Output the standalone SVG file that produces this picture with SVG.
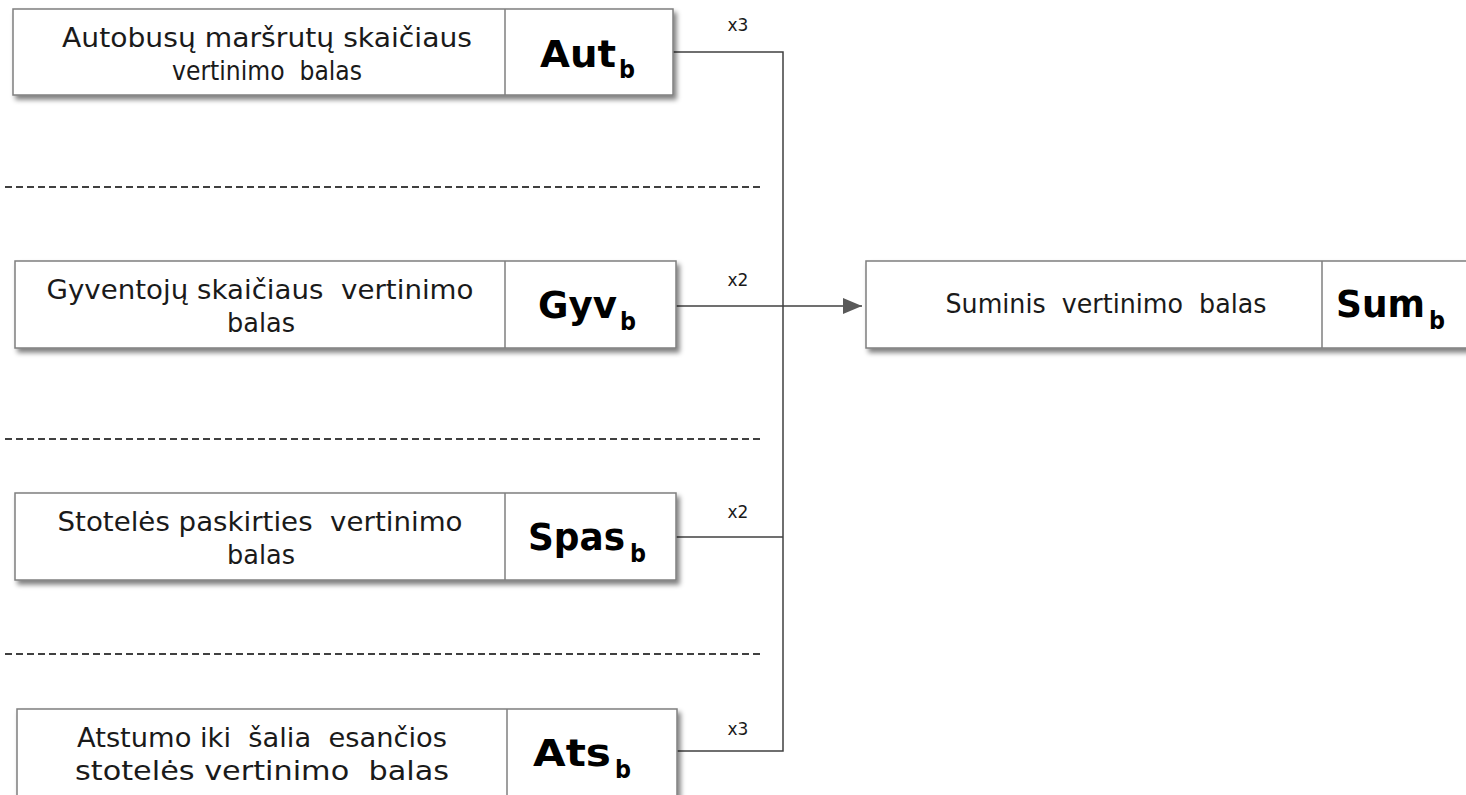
<svg xmlns="http://www.w3.org/2000/svg" width="1466" height="795" viewBox="0 0 1466 795">
<style>
.box{fill:#fff;stroke:#7f7f7f;stroke-width:1.5}
.div{stroke:#7f7f7f;stroke-width:1.5}
.t{font-family:"DejaVu Sans",Verdana,sans-serif;font-size:27px;fill:#1a1a1a;white-space:pre}
.b{font-family:"DejaVu Sans",Verdana,sans-serif;font-size:38px;font-weight:bold;fill:#000}
.s{font-family:"DejaVu Sans",Verdana,sans-serif;font-size:24px;font-weight:bold;fill:#000}
.c{stroke:#404040;stroke-width:1.5;fill:none}
.d{stroke:#404040;stroke-width:2;stroke-dasharray:7 4;fill:none}
.m{font-family:"DejaVu Sans",Verdana,sans-serif;font-size:17px;fill:#1a1a1a}
</style>
<defs>
<filter id="sh" x="-5%" y="-10%" width="112%" height="130%">
<feGaussianBlur in="SourceAlpha" stdDeviation="2.5"/>
<feOffset dx="3" dy="4" result="o"/>
<feComponentTransfer><feFuncA type="linear" slope="0.5"/></feComponentTransfer>
<feMerge><feMergeNode/><feMergeNode in="SourceGraphic"/></feMerge>
</filter>
<marker id="arr" viewBox="0 0 19 16" refX="19" refY="8" markerWidth="19" markerHeight="16" markerUnits="userSpaceOnUse" orient="auto">
<path d="M0,0 L19,8 L0,16 z" fill="#595959"/>
</marker>
</defs>
<g id="separators">
<line class="d" x1="5" y1="187" x2="760" y2="187"/>
<line class="d" x1="5" y1="439" x2="760" y2="439"/>
<line class="d" x1="5" y1="654" x2="760" y2="654"/>
</g>
<g id="connectors">
<polyline class="c" points="673,52 783,52 783,751 677,751"/>
<line class="c" x1="676" y1="306" x2="862" y2="306" marker-end="url(#arr)"/>
<line class="c" x1="676" y1="537" x2="783" y2="537"/>
<text class="m" x="738" y="31" text-anchor="middle">x3</text>
<text class="m" x="738" y="286" text-anchor="middle">x2</text>
<text class="m" x="738" y="518" text-anchor="middle">x2</text>
<text class="m" x="738" y="735" text-anchor="middle">x3</text>
</g>
<g id="aut">
<rect class="box" x="13" y="9" width="660" height="86" filter="url(#sh)"/>
<line class="div" x1="505" y1="9" x2="505" y2="95"/>
<text class="t" x="267" y="46.5" text-anchor="middle" textLength="410" lengthAdjust="spacingAndGlyphs">Autobusų maršrutų skaičiaus</text>
<text class="t" x="267" y="80" text-anchor="middle" textLength="190" lengthAdjust="spacingAndGlyphs">vertinimo  balas</text>
<text class="b" x="540" y="66.5" textLength="76" lengthAdjust="spacingAndGlyphs">Aut</text>
<text class="s" x="619" y="78" textLength="16" lengthAdjust="spacingAndGlyphs">b</text>
</g>
<g id="gyv">
<rect class="box" x="15" y="261" width="661" height="87" filter="url(#sh)"/>
<line class="div" x1="505" y1="261" x2="505" y2="348"/>
<text class="t" x="260" y="298.5" text-anchor="middle" textLength="427" lengthAdjust="spacingAndGlyphs">Gyventojų skaičiaus  vertinimo</text>
<text class="t" x="261" y="332" text-anchor="middle" textLength="68" lengthAdjust="spacingAndGlyphs">balas</text>
<text class="b" x="538" y="318" textLength="79" lengthAdjust="spacingAndGlyphs">Gyv</text>
<text class="s" x="620" y="329.5" textLength="16" lengthAdjust="spacingAndGlyphs">b</text>
</g>
<g id="spas">
<rect class="box" x="15" y="493" width="661" height="87" filter="url(#sh)"/>
<line class="div" x1="505" y1="493" x2="505" y2="580"/>
<text class="t" x="260" y="530.5" text-anchor="middle" textLength="405" lengthAdjust="spacingAndGlyphs">Stotelės paskirties  vertinimo</text>
<text class="t" x="261" y="564" text-anchor="middle" textLength="68" lengthAdjust="spacingAndGlyphs">balas</text>
<text class="b" x="528" y="550" textLength="97" lengthAdjust="spacingAndGlyphs">Spas</text>
<text class="s" x="630" y="561.5" textLength="16" lengthAdjust="spacingAndGlyphs">b</text>
</g>
<g id="ats">
<rect class="box" x="17" y="709" width="660" height="100" filter="url(#sh)"/>
<line class="div" x1="507" y1="709" x2="507" y2="800"/>
<text class="t" x="262" y="746.5" text-anchor="middle" textLength="370" lengthAdjust="spacingAndGlyphs">Atstumo iki  šalia  esančios</text>
<text class="t" x="262" y="780" text-anchor="middle" textLength="374" lengthAdjust="spacingAndGlyphs">stotelės vertinimo  balas</text>
<text class="b" x="533" y="766" textLength="78" lengthAdjust="spacingAndGlyphs">Ats</text>
<text class="s" x="615" y="777.5" textLength="16" lengthAdjust="spacingAndGlyphs">b</text>
</g>
<g id="sum">
<rect class="box" x="866" y="261" width="620" height="87" filter="url(#sh)"/>
<line class="div" x1="1322" y1="261" x2="1322" y2="348"/>
<text class="t" x="1106" y="313" text-anchor="middle" textLength="321" lengthAdjust="spacingAndGlyphs">Suminis  vertinimo  balas</text>
<text class="b" x="1336" y="317" textLength="89" lengthAdjust="spacingAndGlyphs">Sum</text>
<text class="s" x="1429" y="328.5" textLength="16" lengthAdjust="spacingAndGlyphs">b</text>
</g>
</svg>
